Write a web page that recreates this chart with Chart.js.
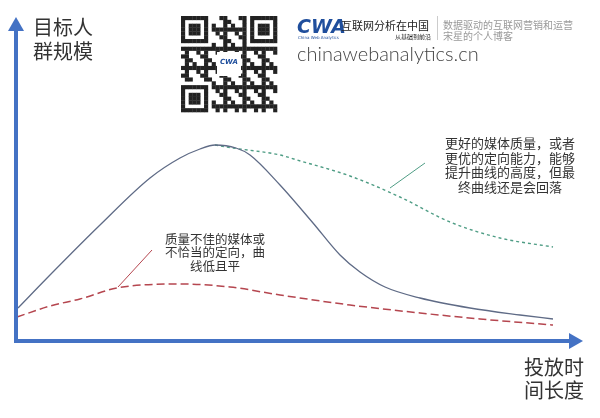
<!DOCTYPE html>
<html>
<head>
<meta charset="utf-8">
<script src="https://cdn.jsdelivr.net/npm/chart.js@4"></script>
<style>
  html, body { margin: 0; padding: 0; background: #fff; }
  canvas { display: block; }
</style>
</head>
<body>
<canvas id="chart" width="600" height="418"></canvas>
<script>
// x = 投放时间长度, y = 目标人群规模 (origin at the axes corner)
const goodX = [2, 34, 84, 134, 164, 184, 199, 220, 234, 264, 297, 324, 344, 369, 404, 454, 504, 537];
const goodY = [33, 66, 116, 163, 183, 192, 196, 193, 186, 156, 118, 86, 69, 54, 43, 33, 26, 22];

const betterX = [199, 217, 264, 281, 334, 384, 434, 484, 537];
const betterY = [196, 193, 186, 181, 165, 144, 119, 103, 94];

const poorX = [1, 34, 64, 101, 164, 214, 264, 334, 404, 464, 537];
const poorY = [24, 35, 42, 53, 57, 54, 46, 36, 28, 22, 16];

const poorLeaderX = [102, 136];
const poorLeaderY = [54, 91];
const betterLeaderX = [374, 409];
const betterLeaderY = [153, 178];

const yAxisTitle = ['目标人', '群规模'];
const xAxisTitle = ['投放时', '间长度'];
const betterNote = ['更好的媒体质量，或者', '更优的定向能力，能够', '提升曲线的高度，但最', '终曲线还是会回落'];
const poorNote = ['质量不佳的媒体或', '不恰当的定向，曲', '线低且平'];

const AXIS_BLUE = '#4472C4';
const CJK = '"Noto Sans CJK SC", "Noto Sans", sans-serif';

const pts = (xs, ys) => xs.map((x, i) => ({ x, y: ys[i] }));

// axes with arrowheads, labels, QR + logo banner
const decorPlugin = {
    id: 'decor',
    afterDraw(chart) {
        const ctx = chart.ctx;
        const xs = chart.scales.x, ys = chart.scales.y;
        const ox = xs.getPixelForValue(0), oy = ys.getPixelForValue(0);
        const yTip = ys.getPixelForValue(324);
        const xTip = xs.getPixelForValue(567);

        ctx.save();
        ctx.strokeStyle = AXIS_BLUE;
        ctx.fillStyle = AXIS_BLUE;
        ctx.lineWidth = 4;
        ctx.beginPath();
        ctx.moveTo(ox, oy + 2);
        ctx.lineTo(ox, yTip + 12);
        ctx.moveTo(ox - 2, oy);
        ctx.lineTo(xTip - 12, oy);
        ctx.stroke();
        ctx.beginPath();
        ctx.moveTo(ox, yTip);
        ctx.lineTo(ox - 8, yTip + 14);
        ctx.lineTo(ox + 8, yTip + 14);
        ctx.closePath();
        ctx.fill();
        ctx.beginPath();
        ctx.moveTo(xTip, oy);
        ctx.lineTo(xTip - 14, oy - 8);
        ctx.lineTo(xTip - 14, oy + 8);
        ctx.closePath();
        ctx.fill();

        // axis titles
        ctx.fillStyle = '#333';
        ctx.textBaseline = 'middle';
        ctx.textAlign = 'left';
        ctx.font = '20px ' + CJK;
        yAxisTitle.forEach((t, i) => ctx.fillText(t, 33, 27 + i * 24));
        xAxisTitle.forEach((t, i) => ctx.fillText(t, 524, 367 + i * 23));

        // annotations
        ctx.textAlign = 'center';
        ctx.font = '13px ' + CJK;
        betterNote.forEach((t, i) => ctx.fillText(t, 510, 143 + i * 14.7));
        ctx.font = '12.5px ' + CJK;
        poorNote.forEach((t, i) => ctx.fillText(t, 215, 239 + i * 13.5));

        // QR code block
        const qx = 181, qy = 16, n = 25, m = 96 / n;
        ctx.fillStyle = '#fff';
        ctx.fillRect(qx, qy, 96, 96);
        ctx.fillStyle = '#222';
        const finder = (r0, c0) => {
            for (let r = 0; r < 7; r++) for (let c = 0; c < 7; c++) {
                const edge = r === 0 || r === 6 || c === 0 || c === 6;
                const core = r >= 2 && r <= 4 && c >= 2 && c <= 4;
                if (edge || core) ctx.fillRect(qx + (c0 + c) * m, qy + (r0 + r) * m, m + 0.3, m + 0.3);
            }
        };
        for (let r = 0; r < n; r++) for (let c = 0; c < n; c++) {
            const inFinder = (r < 8 && c < 8) || (r < 8 && c >= n - 8) || (r >= n - 8 && c < 8);
            if (inFinder) continue;
            if (((r * 7 + c * 11 + r * c * 3) % 5) < 2) {
                ctx.fillRect(qx + c * m, qy + r * m, m + 0.3, m + 0.3);
            }
        }
        finder(0, 0); finder(0, n - 7); finder(n - 7, 0);
        ctx.fillStyle = '#fff';
        ctx.fillRect(qx + 36, qy + 36, 24, 24);
        ctx.fillStyle = '#1f4e9c';
        ctx.font = 'bold italic 7px "DejaVu Sans", sans-serif';
        ctx.fillText('CWA', qx + 48, qy + 46);

        // logo banner
        ctx.textAlign = 'left';
        ctx.textBaseline = 'alphabetic';
        ctx.fillStyle = '#1f4e9c';
        ctx.font = 'bold italic 19px "DejaVu Sans", sans-serif';
        ctx.fillText('CWA', 297, 33);
        ctx.font = '4px "DejaVu Sans", sans-serif';
        ctx.fillText('China Web Analytics', 298, 39);
        ctx.fillStyle = '#222';
        ctx.font = '11px ' + CJK;
        ctx.fillText('互联网分析在中国', 341, 30);
        ctx.font = '6px ' + CJK;
        ctx.fillText('从基础到前沿', 395, 39);
        ctx.strokeStyle = '#ccc';
        ctx.lineWidth = 1;
        ctx.beginPath();
        ctx.moveTo(437.5, 16);
        ctx.lineTo(437.5, 40);
        ctx.stroke();
        ctx.fillStyle = '#999';
        ctx.font = '10px ' + CJK;
        ctx.fillText('数据驱动的互联网营销和运营', 443, 29);
        ctx.fillText('宋星的个人博客', 443, 40);
        ctx.fillStyle = '#444';
        ctx.font = '300 20px Lato, "Open Sans", sans-serif';
        ctx.fillText('chinawebanalytics.cn', 297, 61);
        ctx.restore();
    }
};

new Chart(document.getElementById('chart').getContext('2d'), {
    type: 'line',
    data: {
        datasets: [
            {
                data: pts(goodX, goodY),
                borderColor: '#5f6b86',
                borderWidth: 1.3,
                cubicInterpolationMode: 'monotone',
            },
            {
                data: pts(betterX, betterY),
                borderColor: '#4f9d85',
                borderWidth: 1.4,
                borderDash: [3, 3],
                cubicInterpolationMode: 'monotone',
            },
            {
                data: pts(poorX, poorY),
                borderColor: '#b5464f',
                borderWidth: 1.5,
                borderDash: [8, 4],
                cubicInterpolationMode: 'monotone',
            },
            {
                data: pts(poorLeaderX, poorLeaderY),
                borderColor: '#b5464f',
                borderWidth: 1,
            },
            {
                data: pts(betterLeaderX, betterLeaderY),
                borderColor: '#4f9d85',
                borderWidth: 1,
            },
        ],
    },
    options: {
        responsive: false,
        animation: false,
        devicePixelRatio: 1,
        layout: { padding: 0 },
        elements: { point: { radius: 0 } },
        plugins: { legend: { display: false }, tooltip: { enabled: false } },
        scales: {
            x: { type: 'linear', min: -16, max: 584, display: false },
            y: { type: 'linear', min: -77, max: 341, display: false },
        },
    },
    plugins: [decorPlugin],
});
</script>
</body>
</html>
